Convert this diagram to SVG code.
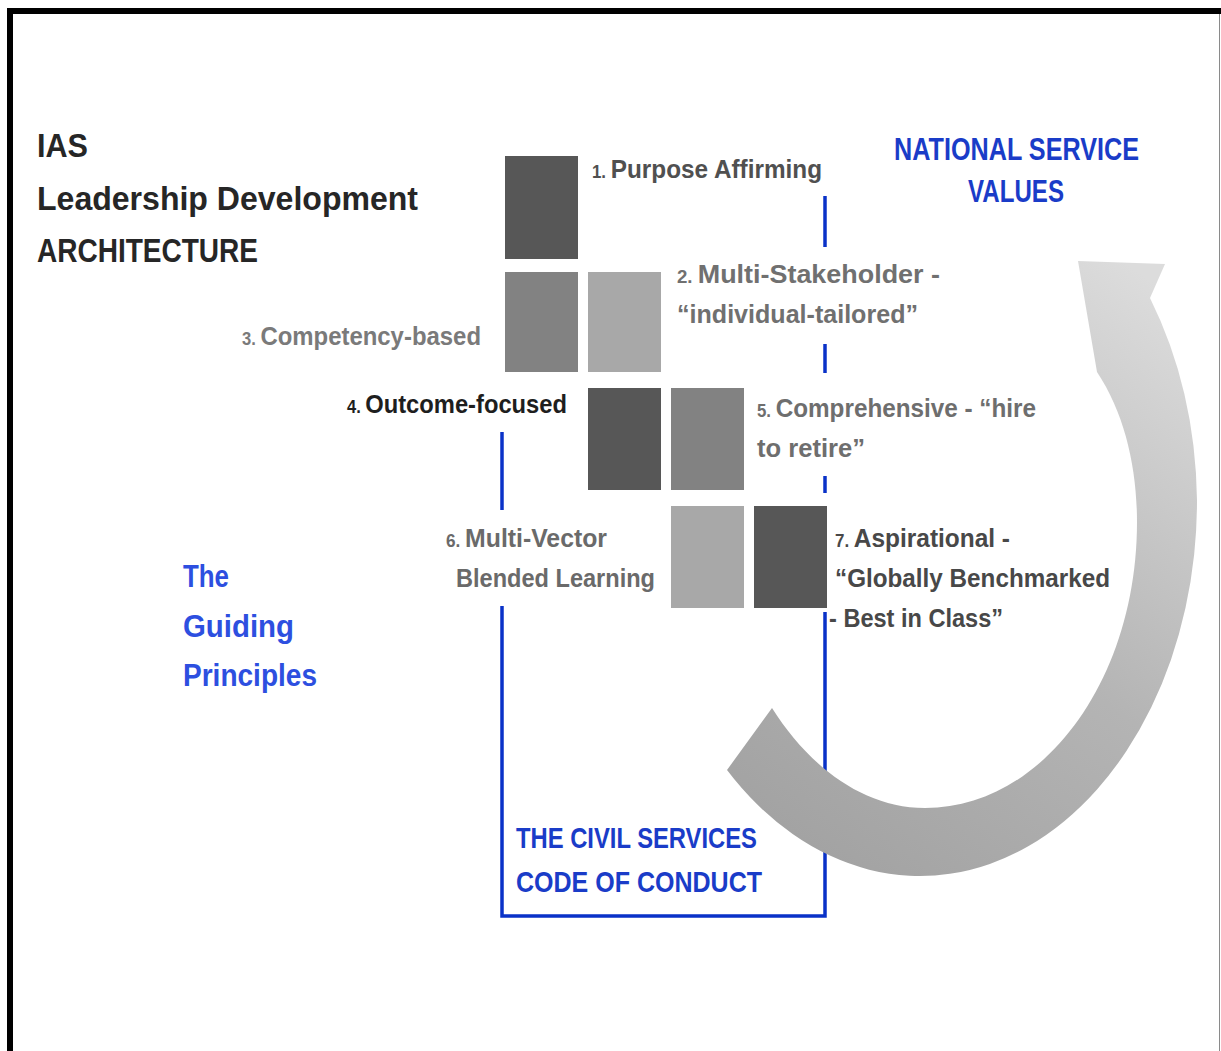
<svg xmlns="http://www.w3.org/2000/svg" width="1221" height="1051" viewBox="0 0 1221 1051">
  <defs>
    <style>
      text { font-family: "Liberation Sans", Arial, sans-serif; font-weight: bold; }
      .title { font-size: 34px; fill: #262626; }
      .blue { font-size: 32px; fill: #1a3cc8; }
      .guide { font-size: 31px; fill: #2d4fe0; }
      .code { font-size: 30px; fill: #1a3cc8; }
      .lbl { font-size: 26px; }
      .num { font-size: 18px; }
      .sq-dark { fill: #575757; }
      .sq-mid { fill: #828282; }
      .sq-light { fill: #a8a8a8; }
      .rule { fill: none; stroke: #0a32c8; stroke-width: 3.5; }
    </style>
    <linearGradient id="arcShade" gradientUnits="userSpaceOnUse" x1="760" y1="830" x2="1150" y2="280">
      <stop offset="0" stop-color="#a2a2a2"/>
      <stop offset="0.45" stop-color="#b4b4b4"/>
      <stop offset="1" stop-color="#dcdcdc"/>
    </linearGradient>
  </defs>

  <rect width="1221" height="1051" fill="#ffffff"/>

  <!-- page frame -->
  <path d="M 10 1051 V 11 H 1221" fill="none" stroke="#000000" stroke-width="6"/>
  <line x1="1219.5" y1="14" x2="1219.5" y2="1051" stroke="#8a8a8a" stroke-width="1"/>

  <!-- heading -->
  <g id="heading">
    <text class="title" x="37" y="157" textLength="51" lengthAdjust="spacingAndGlyphs">IAS</text>
    <text class="title" x="37" y="210" textLength="381" lengthAdjust="spacingAndGlyphs">Leadership Development</text>
    <text class="title" x="37" y="262" textLength="221" lengthAdjust="spacingAndGlyphs">ARCHITECTURE</text>
  </g>

  <!-- blue frame lines -->
  <g id="connectors">
    <line class="rule" x1="825" y1="196" x2="825" y2="247"/>
    <line class="rule" x1="825" y1="344" x2="825" y2="373"/>
    <line class="rule" x1="825" y1="476" x2="825" y2="493"/>
    <line class="rule" x1="502" y1="432" x2="502" y2="510"/>
    <path class="rule" d="M 502 606 V 916 H 825 V 612"/>
  </g>

  <!-- principle blocks -->
  <g id="block-1"><rect class="sq-dark" x="505" y="156" width="73" height="103"/></g>
  <g id="block-3"><rect class="sq-mid" x="505" y="272" width="73" height="100"/></g>
  <g id="block-2"><rect class="sq-light" x="588" y="272" width="73" height="100"/></g>
  <g id="block-4"><rect class="sq-dark" x="588" y="388" width="73" height="102"/></g>
  <g id="block-5"><rect class="sq-mid" x="671" y="388" width="73" height="102"/></g>
  <g id="block-6"><rect class="sq-light" x="671" y="506" width="73" height="102"/></g>
  <g id="block-7"><rect class="sq-dark" x="754" y="506" width="73" height="102"/></g>

  <!-- principle labels -->
  <g id="label-1">
    <text class="lbl" x="592" y="178" fill="#505050" textLength="230" lengthAdjust="spacingAndGlyphs"><tspan class="num">1. </tspan>Purpose Affirming</text>
  </g>
  <g id="label-2" fill="#707070">
    <text class="lbl" x="677" y="283" textLength="263" lengthAdjust="spacingAndGlyphs"><tspan class="num">2. </tspan>Multi-Stakeholder  -</text>
    <text class="lbl" x="677" y="323" textLength="241" lengthAdjust="spacingAndGlyphs">“individual-tailored”</text>
  </g>
  <g id="label-3">
    <text class="lbl" x="242" y="345" fill="#7a7a7a" textLength="239" lengthAdjust="spacingAndGlyphs"><tspan class="num">3. </tspan>Competency-based</text>
  </g>
  <g id="label-4">
    <text class="lbl" x="347" y="413" fill="#1e1e1e" textLength="220" lengthAdjust="spacingAndGlyphs"><tspan class="num">4. </tspan>Outcome-focused</text>
  </g>
  <g id="label-5" fill="#6e6e6e">
    <text class="lbl" x="757" y="417" textLength="279" lengthAdjust="spacingAndGlyphs"><tspan class="num">5. </tspan>Comprehensive - “hire</text>
    <text class="lbl" x="757" y="457" textLength="108" lengthAdjust="spacingAndGlyphs">to retire”</text>
  </g>
  <g id="label-6" fill="#6a6a6a">
    <text class="lbl" x="446" y="547" textLength="161" lengthAdjust="spacingAndGlyphs"><tspan class="num">6. </tspan>Multi-Vector</text>
    <text class="lbl" x="456" y="587" textLength="199" lengthAdjust="spacingAndGlyphs">Blended Learning</text>
  </g>
  <g id="label-7" fill="#484848">
    <text class="lbl" x="835" y="547" textLength="175" lengthAdjust="spacingAndGlyphs"><tspan class="num">7. </tspan>Aspirational -</text>
    <text class="lbl" x="835" y="587" textLength="275" lengthAdjust="spacingAndGlyphs">“Globally Benchmarked</text>
    <text class="lbl" x="829" y="627" textLength="174" lengthAdjust="spacingAndGlyphs">- Best in Class”</text>
  </g>

  <!-- side captions -->
  <g id="national-values">
    <text class="blue" x="894" y="160" textLength="245" lengthAdjust="spacingAndGlyphs">NATIONAL SERVICE</text>
    <text class="blue" x="968" y="202" textLength="96" lengthAdjust="spacingAndGlyphs">VALUES</text>
  </g>
  <g id="guiding-principles">
    <text class="guide" x="183" y="587" textLength="46" lengthAdjust="spacingAndGlyphs">The</text>
    <text class="guide" x="183" y="637" textLength="111" lengthAdjust="spacingAndGlyphs">Guiding</text>
    <text class="guide" x="183" y="686" textLength="134" lengthAdjust="spacingAndGlyphs">Principles</text>
  </g>
  <g id="code-of-conduct">
    <text class="code" x="516" y="848" textLength="241" lengthAdjust="spacingAndGlyphs">THE CIVIL SERVICES</text>
    <text class="code" x="516" y="892" textLength="246" lengthAdjust="spacingAndGlyphs">CODE OF CONDUCT</text>
  </g>

  <!-- curved return arrow, drawn over the frame line -->
  <g id="cycle-arrow">
    <path fill="url(#arcShade)" d="M 727 770
      A 277 375 0 0 0 1197 500
      A 277 375 0 0 0 1150 298
      L 1165 264
      L 1078 261
      L 1097 372
      C 1125 414 1137 468 1137 522
      C 1137 680 1043 808 925 808
      C 862 808 808 765 772 708
      Z"/>
  </g>
</svg>
